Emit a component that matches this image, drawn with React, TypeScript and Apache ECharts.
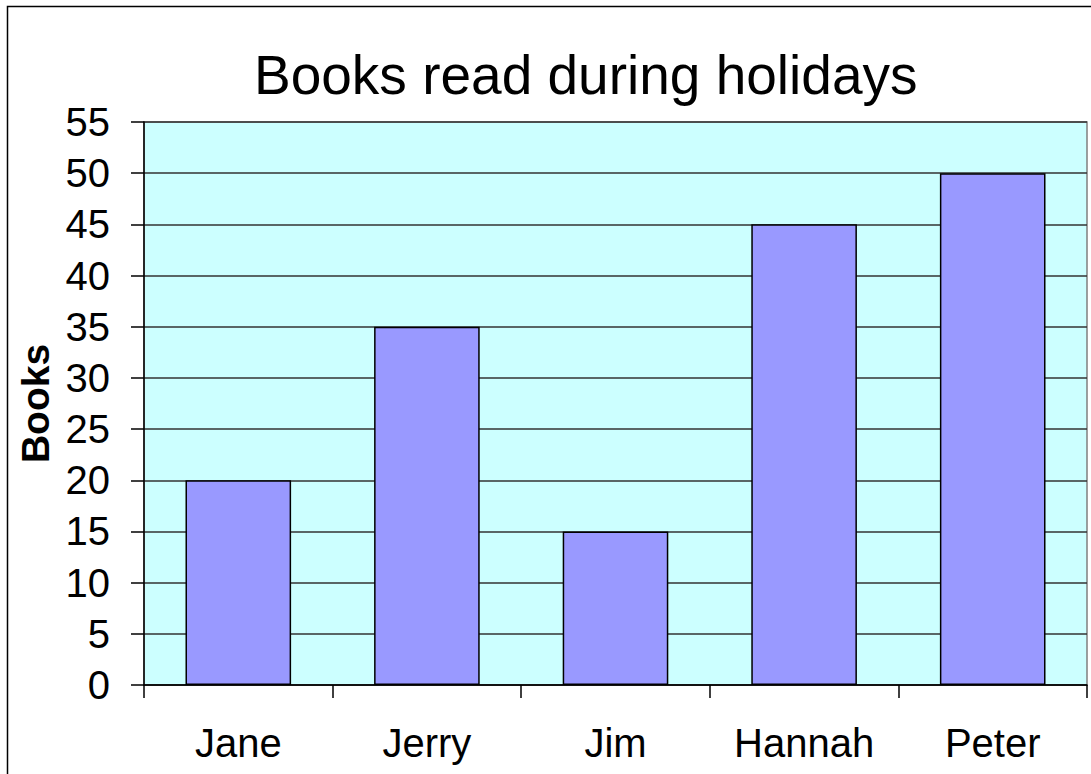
import React, { useEffect, useRef } from "react";
import * as echarts from "echarts";

const titleText = "Books read during holidays";
const categories = ["Jane", "Jerry", "Jim", "Hannah", "Peter"];
const booksRead = [20, 35, 15, 45, 50];
const yAxisName = "Books";

export default function App() {
  const ref = useRef<HTMLDivElement>(null);
  useEffect(() => {
    document.body.style.margin = "0";
    const chart = echarts.init(ref.current!, null, { renderer: "svg" });
    const font = "'Liberation Sans', Arial, sans-serif";
    chart.setOption({
      animation: false,
      backgroundColor: "#ffffff",
      title: {
        text: titleText,
        left: 254,
        top: 47,
        textStyle: { fontFamily: font, fontSize: 55, fontWeight: "normal", color: "#000" },
        padding: 0,
      },
      graphic: [
        {
          type: "rect",
          shape: { x: 7.5, y: 6.5, width: 1100, height: 800 },
          style: { fill: "none", stroke: "#000", lineWidth: 1.5 },
          silent: true,
        },
      ],
      grid: {
        left: 144,
        top: 122,
        right: 4,
        bottom: 89,
        outerBoundsMode: "none",
        containLabel: false,
        show: true,
        backgroundColor: "#CCFFFF",
        borderColor: "#808080",
        borderWidth: 1.5,
      },
      xAxis: {
        type: "category",
        data: categories,
        axisLine: { show: true, lineStyle: { color: "#000", width: 1.5 } },
        axisTick: { show: true, length: 13, alignWithLabel: false, lineStyle: { color: "#000", width: 1.5 } },
        axisLabel: { margin: 38, fontFamily: font, fontSize: 40, color: "#000" },
        splitLine: { show: false },
      },
      yAxis: {
        type: "value",
        min: 0,
        max: 55,
        interval: 5,
        name: yAxisName,
        nameLocation: "middle",
        nameGap: 89,
        nameTextStyle: { fontFamily: font, fontSize: 39, fontWeight: "bold", color: "#000" },
        axisLine: { show: true, lineStyle: { color: "#000", width: 1.5 } },
        axisTick: { show: true, length: 13, inside: false, lineStyle: { color: "#000", width: 1.5 } },
        axisLabel: { margin: 34, fontFamily: font, fontSize: 40, color: "#000" },
        splitLine: { show: true, lineStyle: { color: "#333", width: 1.5 } },
      },
      series: [
        {
          type: "bar",
          data: booksRead,
          barCategoryGap: "44%",
          itemStyle: { color: "#9999FF", borderColor: "#000", borderWidth: 1.5 },
        },
      ],
    });
    return () => chart.dispose();
  }, []);
  return <div ref={ref} style={{ width: 1091, height: 774 }} />;
}
